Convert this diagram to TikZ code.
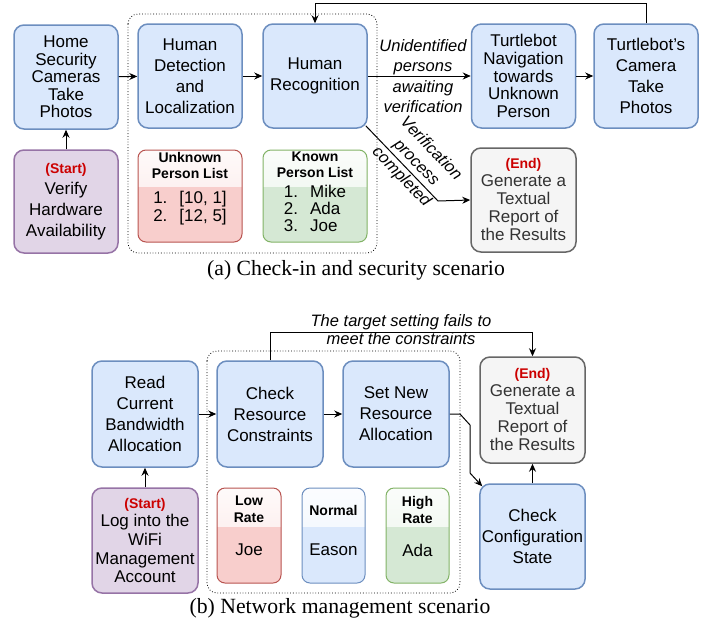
\documentclass[tikz,border=0pt]{standalone}
\usepackage{fontspec}
\setmainfont{Liberation Sans}
\newfontfamily\captionserif{Liberation Serif}
\usetikzlibrary{arrows.meta,calc}

\definecolor{bluefill}{HTML}{DAE8FC}
\definecolor{blueline}{HTML}{6C8EBF}
\definecolor{purplefill}{HTML}{E1D5E7}
\definecolor{purpleline}{HTML}{9673A6}
\definecolor{grayfill}{HTML}{F5F5F5}
\definecolor{grayline}{HTML}{666666}
\definecolor{graytext}{HTML}{333333}
\definecolor{redfill}{HTML}{F8CECC}
\definecolor{redline}{HTML}{B85450}
\definecolor{greenfill}{HTML}{D5E8D4}
\definecolor{greenline}{HTML}{82B366}
\definecolor{markred}{HTML}{CC0000}

\newcommand{\starttag}[1]{{\color{markred}\bfseries\fontsize{14}{16}\selectfont(#1)}}

\tikzset{
  base/.style={rounded corners=10pt, line width=1.5pt, align=center, inner sep=2pt,
    font=\fontsize{17}{21}\selectfont},
  stepbox/.style={base, draw=blueline, fill=bluefill, minimum width=104pt, minimum height=104pt},
  startbox/.style={base, draw=purpleline, fill=purplefill, minimum width=104pt, minimum height=104pt},
  endbox/.style={base, draw=grayline, fill=grayfill, text=graytext, minimum width=105pt,
    minimum height=104pt, font=\fontsize{17}{18}\selectfont},
  % glass look: light gradient over the upper 40 percent
  glassbox/.style 2 args={rounded corners=8pt, line width=1pt, draw=#2, fill=#1,
    path picture={\shade[sharp corners, top color=#1!10!white, bottom color=#1!55!white]
      (path picture bounding box.north west) rectangle
      ($(path picture bounding box.north east)!0.4!(path picture bounding box.south east)$);}},
  listtitle/.style={align=center, inner sep=0pt, font=\bfseries\fontsize{14}{16}\selectfont},
  listtext/.style={align=center, inner sep=0pt, font=\fontsize{17}{18}\selectfont},
  edgelabel/.style={align=center, inner sep=0pt, font=\itshape\fontsize{16.5}{20.5}\selectfont},
  caption/.style={inner sep=0pt, font=\captionserif\fontsize{21.7}{24}\selectfont},
  flow/.style={line width=1pt, -{Stealth[length=8pt,width=7pt]}},
  group/.style={dotted, line width=0.8pt, rounded corners=10pt}
}

\begin{document}
\begin{tikzpicture}[x=1pt,y=-1pt]
\useasboundingbox (0,0) rectangle (714,627);

% (a) check-in and security scenario
\draw[group] (128,14) rectangle (377,253);
\node[stepbox, font=\fontsize{17}{17.5}\selectfont] (home) at (66,77) {Home\\Security\\Cameras\\Take\\Photos};
\node[startbox, minimum height=103pt] (verify) at (66,201.5) {\starttag{Start}\\Verify\\Hardware\\Availability};
\node[stepbox] (detect) at (190,76) {Human\\Detection\\and\\Localization};
\node[stepbox] (recog) at (315,76) {Human\\Recognition};
\node[stepbox, font=\fontsize{17}{17.8}\selectfont] (nav) at (523.5,76) {Turtlebot\\Navigation\\towards\\Unknown\\Person};
\node[stepbox] (cam) at (646,76) {Turtlebot's\\Camera\\Take\\Photos};
\node[endbox] (endA) at (523.5,200) {\starttag{End}\\Generate a\\Textual\\Report of\\the Results};

\node[glassbox={redfill}{redline}, minimum width=104pt, minimum height=92pt] (unknown) at (190,196) {};
\node[listtitle] (unknowntitle) at (190,165) {Unknown\\Person List};
\node[listtext] (unknownitems) at (190,209) {\begin{tabular}{@{}l@{\hspace{12pt}}l@{}}1. & [10, 1]\\ 2. & [12, 5]\end{tabular}};
\node[glassbox={greenfill}{greenline}, minimum width=104pt, minimum height=92pt] (known) at (315,196) {};
\node[listtitle] (knowntitle) at (315,165) {Known\\Person List};
\node[listtext, font=\fontsize{17}{16.7}\selectfont] (knownitems) at (315,211) {\begin{tabular}{@{}l@{\hspace{12pt}}l@{}}1. & Mike\\ 2. & Ada\\ 3. & Joe\end{tabular}};

\draw[flow] (verify) -- (home);
\draw[flow] (home) -- (detect);
\draw[flow] (detect) -- (recog);
\draw[flow] (recog) -- (nav);
\draw[flow] (nav) -- (cam);
\coordinate (loopA) at (646,3);
\draw[flow] (cam.north) -- (loopA) -| (recog.north);
\coordinate (bendA) at (438,201);
\draw[flow] ([shift={(-2,-3)}]recog.south east) -- (bendA) -- (endA.west);

\node[edgelabel] (waitlabel) at (423,76) {Unidentified\\persons\\awaiting\\verification};
\node[edgelabel, rotate=-46] (donelabel) at (416,163) {Verification\\process\\completed};
\node[caption] (capA) at (356,270) {(a) Check-in and security scenario};

% (b) network management scenario
\draw[group] (207,351) rectangle (460,593);
\node[stepbox, minimum width=106pt, minimum height=106pt] (read) at (145,414) {Read\\Current\\Bandwidth\\Allocation};
\node[startbox, minimum width=106pt, minimum height=105pt, font=\fontsize{17}{18.7}\selectfont] (login) at (145,540.5) {\starttag{Start}\\Log into the\\WiFi\\Management\\Account};
\node[stepbox, minimum width=106pt, minimum height=106pt] (check) at (270,414) {Check\\Resource\\Constraints};
\node[stepbox, minimum width=106pt, minimum height=106pt] (setnew) at (396,414) {Set New\\Resource\\Allocation};
\node[endbox, minimum height=106pt] (endB) at (532.5,410) {\starttag{End}\\Generate a\\Textual\\Report of\\the Results};
\node[stepbox, minimum width=105pt, minimum height=105pt] (config) at (532.5,536.5) {Check\\Configuration\\State};

\node[glassbox={redfill}{redline}, minimum width=64pt, minimum height=95pt] (low) at (249,535.5) {};
\node[listtitle, font=\bfseries\fontsize{14}{17}\selectfont] (lowtitle) at (249,509.5) {Low\\Rate};
\node[listtext] (lowname) at (249,550) {Joe};
\node[glassbox={bluefill}{blueline}, minimum width=63pt, minimum height=95pt] (normal) at (333.5,535.5) {};
\node[listtitle] (normaltitle) at (333.5,510) {Normal};
\node[listtext] (normalname) at (333.5,550) {Eason};
\node[glassbox={greenfill}{greenline}, minimum width=63pt, minimum height=95pt] (high) at (417.5,535.5) {};
\node[listtitle, font=\bfseries\fontsize{14}{17}\selectfont] (hightitle) at (417.5,509.5) {High\\Rate};
\node[listtext] (highname) at (417.5,550) {Ada};

\draw[flow] (login) -- (read);
\draw[flow] (read) -- (check);
\draw[flow] (check) -- (setnew);
\draw[flow] (config) -- (endB);
\coordinate (loopB) at (270,332);
\draw[flow] (check.north) -- (loopB) -| (endB.north);
\coordinate (jogA) at (460,414);
\coordinate (jogB) at (470,425);
\coordinate (jogC) at (470,473);
\draw[flow] (setnew.east) -- (jogA) -- (jogB) -- (jogC) -- ([shift={(3,3)}]config.north west);

\node[edgelabel, font=\itshape\fontsize{16.5}{18}\selectfont] (faillabel) at (401,330) {The target setting fails to\\meet the constraints};
\node[caption] (capB) at (340,608) {(b) Network management scenario};
\end{tikzpicture}
\end{document}
